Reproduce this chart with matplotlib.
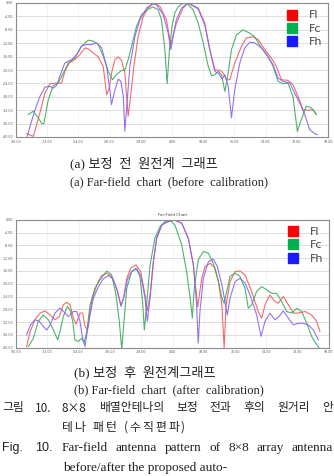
import numpy as np
import matplotlib
matplotlib.use('Agg')
import matplotlib.pyplot as plt
from matplotlib.lines import Line2D

# ---- data: (a) before calibration ----
a_fl_deg = [-83.9, -80.0, -76.2, -73.3, -70.4, -66.6, -63.7, -61.8, -59.3, -56.0, -53.1, -50.2, -48.3,
            -45.4, -42.6, -39.7, -37.7, -36.2, -34.9, -32.9, -31.0, -29.1, -27.2, -25.3, -23.9, -22.0,
            -19.5, -16.6, -13.7, -10.9, -8.9, -7.0, -3.2, -0.7, 1.0, 2.6, 6.4, 9.3, 15.1, 18.9, 21.8,
            24.7, 27.6, 29.5, 31.4, 33.3, 36.2, 40.1, 42.9, 46.8, 49.7, 53.5, 57.3, 60.2, 63.1, 66.9,
            69.8, 72.7, 75.6, 78.5, 81.4, 83.3]
a_fl_db = [-39.0, -39.8, -32.8, -26.9, -24.1, -23.9, -23.9, -20.4, -17.9, -16.9, -15.4, -13.4, -13.7,
           -14.9, -16.1, -18.9, -27.4, -25.4, -20.9, -16.9, -16.1, -17.1, -20.9, -33.8, -27.9, -18.9,
           -9.9, -4.0, -1.5, -0.2, -0.5, -1.0, -5.0, -12.5, -9.0, -6.0, -1.5, 0.0, -1.5, -6.0, -13.9,
           -19.9, -20.1, -20.9, -22.9, -22.9, -17.9, -12.9, -10.4, -10.1, -10.9, -13.9, -16.4, -18.9,
           -22.9, -23.1, -24.4, -27.9, -31.8, -32.0, -31.8, -33.3]

a_fc_deg = [-82.9, -80.0, -77.1, -75.2, -73.9, -71.4, -68.5, -65.6, -62.7, -59.8, -56.0, -52.2, -48.3,
            -45.4, -42.6, -39.7, -36.8, -34.3, -32.0, -29.1, -27.2, -25.3, -23.3, -20.5, -17.6, -13.7,
            -10.9, -8.0, -6.1, -4.1, -2.8, -1.5, 0.0, 1.6, 3.5, 5.5, 8.4, 12.2, 15.1, 18.0, 20.9, 22.8,
            24.7, 26.6, 28.6, 30.5, 32.4, 34.3, 37.2, 41.0, 44.9, 47.7, 51.6, 55.4, 58.3, 61.2, 64.1,
            66.9, 69.8, 72.3, 74.6, 77.5, 80.4, 83.3]
a_fc_db = [-33.3, -32.3, -34.3, -36.0, -36.0, -28.9, -24.7, -23.9, -20.9, -17.9, -16.4, -12.9, -11.1,
           -11.4, -12.4, -15.9, -20.4, -22.9, -21.4, -20.1, -20.1, -16.9, -12.9, -7.0, -3.5, -1.8,
           -1.2, -2.0, -5.0, -13.9, -24.1, -14.0, -7.0, -3.0, -1.2, -0.3, 0.0, -2.0, -6.0, -11.9, -18.9,
           -21.7, -21.4, -20.4, -21.4, -26.4, -20.9, -13.9, -9.5, -8.0, -9.0, -10.1, -13.4, -15.9,
           -18.9, -23.4, -24.1, -23.9, -27.9, -38.3, -34.8, -30.8, -31.3, -33.3]

a_fh_deg = [-83.9, -81.9, -79.0, -76.2, -73.3, -70.4, -68.5, -66.6, -63.7, -61.8, -57.9, -55.0, -52.2,
            -49.3, -46.4, -43.5, -40.6, -37.7, -35.8, -34.9, -32.9, -31.0, -29.5, -28.1, -27.2, -25.8,
            -24.3, -21.4, -18.5, -14.7, -11.2, -8.9, -5.1, -2.2, -0.7, 1.0, 2.5, 5.5, 9.3, 15.1, 18.9,
            21.8, 24.7, 27.0, 28.9, 30.5, 32.4, 34.3, 36.2, 39.1, 42.0, 44.9, 47.7, 51.6, 55.4, 58.3,
            61.2, 64.1, 67.9, 70.8, 73.7, 76.6, 79.4, 82.3, 83.8]
a_fh_db = [-40.5, -36.8, -31.8, -27.9, -25.1, -24.9, -25.4, -24.7, -20.4, -17.9, -16.9, -15.4, -12.9,
           -12.4, -12.4, -11.9, -13.4, -18.9, -26.4, -30.3, -25.9, -22.7, -23.4, -27.9, -38.3, -28.9,
           -18.9, -10.0, -5.0, -1.5, -0.2, -0.5, -3.5, -9.0, -13.9, -9.0, -5.0, -1.5, 0.0, -1.8, -6.5,
           -13.9, -20.4, -21.1, -22.7, -21.4, -24.9, -34.3, -25.9, -17.9, -13.4, -11.7, -11.9, -13.4,
           -16.1, -18.4, -22.4, -23.4, -23.9, -26.9, -29.9, -33.3, -37.8, -39.0, -39.3]

# ---- data: (b) after calibration ----
b_fl_deg = [-83.9, -81.9, -79.1, -76.2, -73.3, -70.4, -67.6, -65.1, -62.8, -60.8, -58.9, -57.0, -55.5,
            -53.2, -51.7, -50.3, -49.0, -46.5, -43.6, -40.7, -37.8, -35.0, -32.1, -29.6, -28.3, -26.3,
            -24.0, -21.0, -18.3, -15.8, -14.5, -12.9, -11.0, -9.1, -6.2, -3.4, -0.1, 1.4, 5.3, 9.1,
            12.0, 14.5, 16.8, 18.7, 21.6, 24.5, 26.4, 28.4, 29.7, 30.8, 33.1, 36.0, 38.8, 41.7, 45.5,
            49.3, 51.3, 53.2, 56.0, 58.9, 60.8, 63.7, 66.6, 69.5, 72.3, 76.2, 80.0, 82.9, 84.8]
b_fl_db = [-39.7, -35.0, -31.3, -29.2, -28.5, -29.8, -31.3, -30.3, -26.6, -25.8, -26.6, -30.8, -32.7,
           -29.2, -29.2, -33.4, -34.5, -25.6, -20.4, -17.4, -16.7, -17.7, -21.4, -26.6, -25.0, -18.3,
           -15.1, -14.1, -16.2, -23.5, -28.5, -23.5, -13.1, -5.7, -1.6, -0.7, -0.1, 0.0, -1.0, -5.7,
           -14.1, -27.2, -18.3, -14.6, -13.6, -15.1, -19.3, -26.6, -40.2, -26.6, -19.3, -16.2, -16.0,
           -17.2, -22.4, -28.7, -30.8, -26.6, -23.5, -25.6, -26.1, -24.0, -26.6, -29.2, -29.2, -28.7,
           -29.8, -31.8, -35.0]

b_fc_deg = [-82.9, -80.0, -77.2, -74.3, -71.4, -68.5, -66.0, -64.7, -62.8, -60.5, -58.9, -57.4, -56.1,
            -54.2, -52.2, -50.9, -49.3, -47.4, -44.6, -41.7, -37.8, -35.0, -32.5, -30.6, -29.2, -27.9,
            -26.3, -23.5, -21.0, -18.7, -17.2, -16.2, -14.9, -12.9, -10.1, -7.2, -4.3, -1.5, 1.4, 5.3,
            8.1, 10.4, 11.4, 12.5, 14.8, 17.7, 20.6, 23.4, 26.4, 28.4, 29.7, 31.2, 33.1, 36.0, 38.8,
            41.7, 43.6, 45.5, 48.4, 51.3, 54.2, 57.0, 59.9, 62.8, 65.7, 68.6, 71.4, 74.3, 77.2, 80.0,
            82.9, 84.2]
b_fc_db = [-39.7, -37.1, -31.8, -29.8, -31.3, -34.5, -37.6, -35.0, -30.3, -27.1, -28.2, -31.8, -37.6,
           -38.1, -37.1, -38.6, -35.0, -26.6, -21.4, -18.8, -16.0, -17.2, -23.5, -31.8, -40.5, -31.8,
           -21.4, -16.2, -15.1, -17.7, -25.6, -34.5, -26.6, -14.1, -5.7, -2.1, -0.5, 0.0, -1.6, -7.8,
           -16.2, -25.6, -30.8, -21.4, -12.5, -9.9, -10.4, -13.6, -19.3, -24.5, -26.1, -22.4, -17.7,
           -16.7, -17.7, -21.4, -27.7, -26.6, -22.4, -20.9, -21.9, -23.0, -23.0, -25.6, -28.7, -29.2,
           -27.7, -28.7, -32.4, -36.5, -39.1, -40.0]

b_fh_deg = [-83.9, -81.6, -79.1, -76.6, -74.3, -72.3, -70.4, -67.6, -64.7, -61.8, -59.9, -57.0, -55.1,
            -53.2, -51.7, -50.3, -49.0, -47.4, -45.5, -42.6, -39.8, -36.9, -34.1, -31.7, -29.6, -27.9,
            -26.0, -23.5, -20.6, -18.1, -15.8, -14.5, -12.9, -11.0, -9.1, -6.2, -3.4, -0.1, 1.4, 5.3,
            9.1, 12.0, 13.8, 14.8, 15.8, 17.7, 20.6, 23.4, 25.8, 28.4, 30.2, 31.5, 33.1, 36.0, 38.8,
            41.7, 44.6, 48.4, 50.9, 53.2, 56.0, 58.9, 61.2, 63.7, 66.6, 69.5, 72.3, 75.2, 78.1, 81.0,
            83.9]
b_fh_db = [-36.0, -32.9, -31.3, -31.8, -33.4, -34.5, -32.9, -29.2, -27.6, -29.2, -30.3, -28.7, -28.7,
           -31.8, -37.1, -39.7, -35.0, -29.8, -24.5, -20.9, -18.5, -17.4, -18.5, -22.5, -27.1, -24.0,
           -18.8, -16.2, -15.3, -17.7, -24.5, -31.8, -24.5, -13.1, -5.7, -1.6, -0.7, -0.1, 0.0, -1.0,
           -5.7, -14.1, -26.0, -38.6, -28.7, -18.3, -13.1, -12.2, -14.6, -20.4, -25.6, -29.8, -24.5,
           -19.3, -18.3, -19.8, -23.5, -29.8, -36.5, -31.8, -29.2, -31.3, -30.3, -28.5, -30.8, -32.9,
           -32.4, -32.4, -32.9, -34.5, -37.6]

labels = ['Fl', 'Fc', 'Fh']
line_colors = ['#f25a5a', '#3aaa5c', '#8a62f0']
box_colors = ['#ff0000', '#00b050', '#1a1aff']
x_ticks = [-90, -72, -54, -36, -18, 0, 18, 36, 54, 72, 90]
y_ticks = [0, -4, -8, -12, -16, -20, -24, -28, -32, -36, -40]

W, H = 334, 476
fig = plt.figure(figsize=(W / 100, H / 100), dpi=100)


def px_axes(left, top, right, bottom):
    return fig.add_axes([left / W, 1 - bottom / H, (right - left) / W, (bottom - top) / H])


def far_field(ax, series, leg_anchor):
    for (deg, db), c in zip(series, line_colors):
        ax.plot(deg, db, color=c, lw=0.8, alpha=0.9)
    ax.set_xlim(-90, 90)
    ax.set_ylim(-40, 0)
    ax.set_xticks(x_ticks)
    ax.set_yticks(y_ticks)
    ax.set_xticklabels([f'{v:.2f}' for v in x_ticks])
    ax.set_yticklabels([f'{v:.2f}' for v in y_ticks])
    ax.tick_params(labelsize=2.3, length=0, pad=2, colors='#555555')
    ax.grid(axis='y', color='#d8d8d8', lw=0.6)
    ax.grid(axis='x', color='#eeeeee', lw=0.5)
    for s in ax.spines.values():
        s.set_color('#8a8a8a')
        s.set_linewidth(0.8)
    handles = [Line2D([], [], ls='none', marker='s', markersize=6.5,
                      markerfacecolor=c, markeredgecolor=c) for c in box_colors]
    ax.legend(handles, labels, loc='upper right', bbox_to_anchor=leg_anchor, frameon=False,
              fontsize=8, labelcolor='#444444', handlelength=1.0, handletextpad=1.0,
              labelspacing=0.3, borderaxespad=0)


ax1 = px_axes(16, 3, 328, 137)
far_field(ax1, [(a_fl_deg, a_fl_db), (a_fc_deg, a_fc_db), (a_fh_deg, a_fh_db)], (0.995, 0.978))

ax2 = px_axes(16, 220, 329, 347.5)
far_field(ax2, [(b_fl_deg, b_fl_db), (b_fc_deg, b_fc_db), (b_fh_deg, b_fh_db)], (0.995, 0.98))
ax2.set_title('Far-Field Chart', fontsize=3, color='#444444', pad=3)

kor = ['Liberation Serif', 'Noto Sans CJK KR']
ksans = ['Noto Sans CJK KR', 'DejaVu Sans']
serif = ['Liberation Serif', 'DejaVu Serif']
ink = '#222222'


def put(x, y, s, family, size):
    return fig.text(x / W, 1 - y / H, s, family=family, fontsize=size, color=ink, va='center')


put(70, 163, '(a) 보정  전  원전계  그래프', kor, 9.5)
put(70, 182, '(a) Far-field  chart  (before  calibration)', serif, 9)
put(74, 372, '(b) 보정  후  원전계그래프', kor, 9.5)
put(74, 390, '(b) Far-field  chart  (after  calibration)', serif, 9)

renderer = fig.canvas.get_renderer()


def justify(words, x0, x1, y, family, size):
    texts = [put(0, y, w, family, size) for w in words]
    widths = [t.get_window_extent(renderer).width for t in texts]
    gap = (x1 - x0 - sum(widths)) / (len(words) - 1)
    x = x0
    for t, w in zip(texts, widths):
        t.set_x(x / W)
        x += w + gap


def tracked(s, x0, y, family, size, gap):
    x = x0
    for ch in s:
        t = put(x, y, ch, family, size)
        x += (t.get_window_extent(renderer).width if ch != ' ' else size * 0.35) + gap


put(2, 408, '그림', ksans, 8.5)
put(35, 408, '10.', ksans, 8.5)
justify('8×8 배열안테나의 보정 전과 후의 원거리 안'.split(), 62, 333, 408, ksans, 8.5)
tracked('테나 패턴 (수직편파)', 62, 427, ksans, 8.5, 2.0)
put(2, 448, 'Fig.', ['Liberation Sans'], 9)
put(35, 448, '10.', ['Liberation Sans'], 9)
justify('Far-field antenna pattern of 8×8 array antenna'.split(), 62, 333, 448, serif, 9.5)
put(63, 468, 'before/after the proposed auto-', serif, 9.5)

fig.savefig('out.png', dpi=100)
